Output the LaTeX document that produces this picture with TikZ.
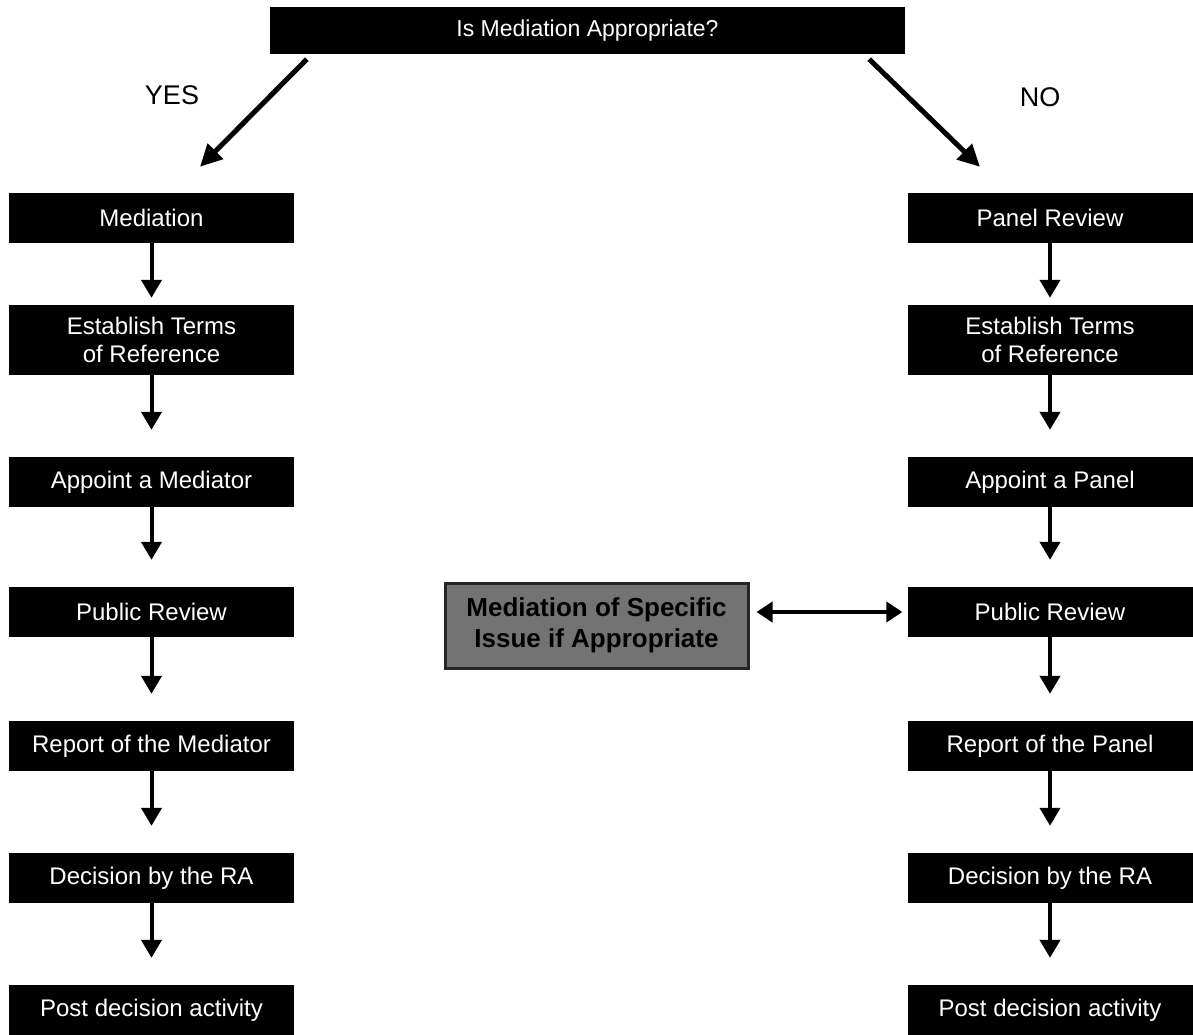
\documentclass[tikz,border=0pt]{standalone}
\usepackage{fontspec}
\setmainfont{Liberation Sans}
\usetikzlibrary{arrows.meta}

\tikzset{
	stepbox/.style={fill=black, text=white, inner sep=0pt, align=center,
		minimum width=285pt, minimum height=50pt,
		font=\fontsize{24}{28}\selectfont},
	tallbox/.style={stepbox, minimum height=70pt},
	issuebox/.style={fill=black!55, draw=black!85, line width=3pt, text=black,
		inner sep=0pt, align=center, minimum width=303pt, minimum height=85pt,
		font=\fontsize{26}{31}\selectfont\bfseries},
	answer/.style={font=\fontsize{27}{30}\selectfont},
	down/.style={-{Triangle[width=20pt,length=18pt]}, line width=4pt, shorten >=27pt},
	diag/.style={-{Triangle[width=21pt,length=22pt]}, line width=5pt},
	both/.style={{Triangle[width=20pt,length=16pt]}-{Triangle[width=20pt,length=16pt]},
		line width=4pt, shorten <=7pt, shorten >=5pt}
}

\begin{document}
\begin{tikzpicture}[x=1pt, y=-1pt]
	\useasboundingbox[fill=white] (0,0) rectangle (1193,1034);

	\node[stepbox, minimum width=635pt, minimum height=47pt, font=\fontsize{23}{26}\selectfont]
		(top) at (587.5,30.5) {Is Mediation Appropriate?};
	\node[answer] (yes) at (172,95) {YES};
	\node[answer] (no) at (1040,97) {NO};

	% mediation side
	\node[stepbox] (med)  at (151.5,218)  {Mediation};
	\node[tallbox] (estM) at (151.5,340)  {Establish Terms\\of Reference};
	\node[stepbox] (appM) at (151.5,482)  {Appoint a Mediator};
	\node[stepbox] (pubM) at (151.5,612)  {Public Review};
	\node[stepbox] (repM) at (151.5,746)  {Report of the Mediator};
	\node[stepbox] (decM) at (151.5,878)  {Decision by the RA};
	\node[stepbox] (posM) at (151.5,1010) {Post decision activity};

	% panel side
	\node[stepbox] (pan)  at (1050,218)  {Panel Review};
	\node[tallbox] (estP) at (1050,340)  {Establish Terms\\of Reference};
	\node[stepbox] (appP) at (1050,482)  {Appoint a Panel};
	\node[stepbox] (pubP) at (1050,612)  {Public Review};
	\node[stepbox] (repP) at (1050,746)  {Report of the Panel};
	\node[stepbox] (decP) at (1050,878)  {Decision by the RA};
	\node[stepbox] (posP) at (1050,1010) {Post decision activity};

	\node[issuebox] (issue) at (596.5,625.5) {Mediation of Specific\\Issue if Appropriate};

	\draw[diag] ([xshift=37pt,yshift=-5pt]top.south west) -- ([xshift=48.5pt,yshift=26pt]med.north);
	\draw[diag] ([xshift=-36pt,yshift=-5pt]top.south east) -- ([xshift=-70pt,yshift=26pt]pan.north);

	\path[down]
	(med)  edge[shorten >=7pt] (estM)
	(estM) edge (appM)
	(appM) edge (pubM)
	(pubM) edge (repM)
	(repM) edge (decM)
	(decM) edge (posM)
	(pan)  edge[shorten >=7pt] (estP)
	(estP) edge (appP)
	(appP) edge (pubP)
	(pubP) edge (repP)
	(repP) edge (decP)
	(decP) edge (posP);

	\draw[both] (pubP.west -| issue.east) -- (pubP.west);
\end{tikzpicture}
\end{document}
